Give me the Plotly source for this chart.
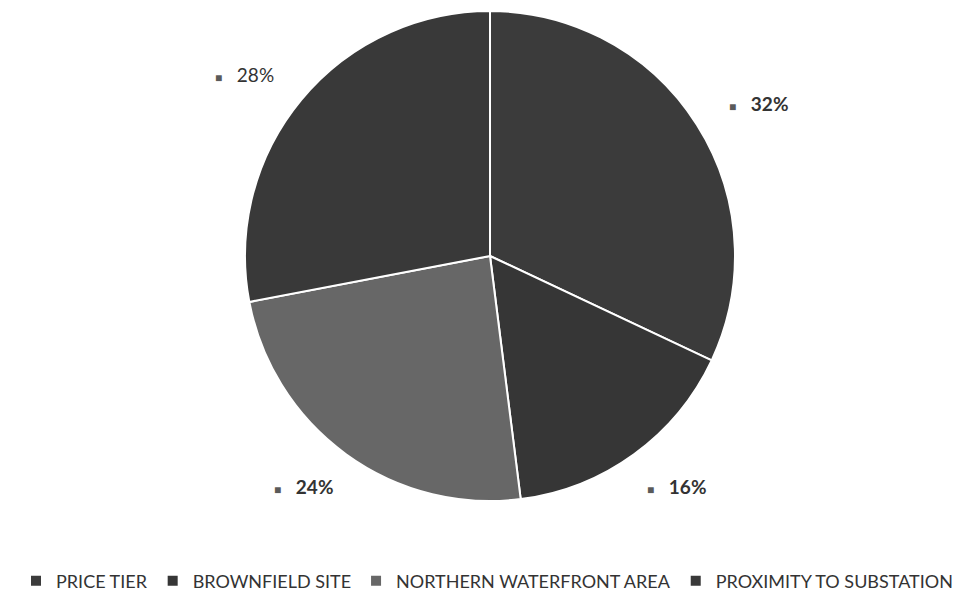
import math
import plotly.graph_objects as go

categories = ["PRICE TIER", "BROWNFIELD SITE", "NORTHERN WATERFRONT AREA", "PROXIMITY TO SUBSTATION"]
values = [32, 16, 24, 28]
colors = ["#3b3b3b", "#363636", "#676767", "#393939"]
label_bold = [True, True, True, False]

W, H = 974, 603
cx, cy, R = 490, 256, 245

fig = go.Figure()
fig.add_trace(go.Pie(
    labels=categories,
    values=values,
    sort=False,
    direction="clockwise",
    rotation=0,
    marker=dict(colors=colors, line=dict(color="white", width=2)),
    textinfo="none",
    hoverinfo="label+percent",
    domain=dict(x=[(cx - R) / W, (cx + R) / W], y=[1 - (cy + R) / H, 1 - (cy - R) / H]),
))

# data labels placed around the pie, derived from the slice mid-angles
total = sum(values)
cum = 0
rx, ry = 318, 285
for v, c, b in zip(values, colors, label_bold):
    mid = (cum + v / 2) / total * 2 * math.pi
    cum += v
    px = cx + rx * math.sin(mid)
    py = cy - ry * math.cos(mid)
    pct = f"{round(v / total * 100)}%"
    txt = f"<b>{pct}</b>" if b else pct
    fig.add_annotation(
        x=px / W, y=1 - py / H, xref="paper", yref="paper",
        text=f"<span style='font-size:12px;color:#5a5a5a'>■</span>   {txt}",
        showarrow=False, xanchor="center", yanchor="middle",
        font=dict(family="Lato", size=19, color="#333333"),
    )

fig.update_layout(
    width=W, height=H,
    margin=dict(l=0, r=0, t=0, b=0),
    paper_bgcolor="white", plot_bgcolor="white",
    showlegend=True,
    legend=dict(
        orientation="h", x=0.5, xanchor="center", y=1 - 581 / H, yanchor="middle",
        font=dict(family="Lato", size=18, color="#333333"),
        traceorder="normal", itemwidth=30,
    ),
)

fig.write_html("out.html")
